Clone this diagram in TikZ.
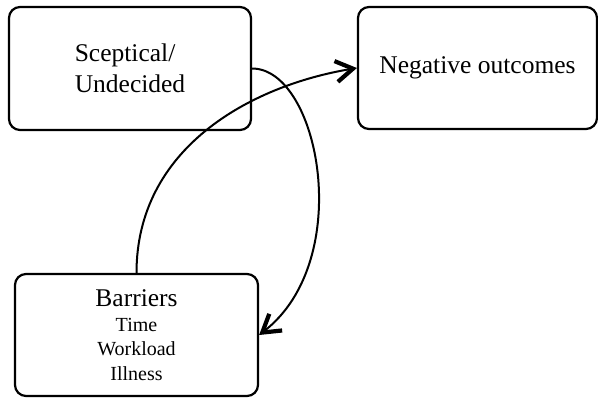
\documentclass[tikz,border=0pt]{standalone}
\usepackage{fontspec}
\setmainfont{Liberation Serif}
\usetikzlibrary{arrows.meta}
\begin{document}
\begin{tikzpicture}[x=1pt, y=-1pt,
  stage/.style={draw, line width=2.2pt, rounded corners=11pt, inner sep=0pt,
    font=\fontsize{25.5}{31}\selectfont},
  link/.style={line width=2pt,
    -{Straight Barb[length=17pt, width=21pt, line width=4.2pt]}}]
  \useasboundingbox (0,0) rectangle (598,397);
  % the three stages
  \node[stage, minimum width=242pt, minimum height=123pt, align=left]
    (scep) at (130,68.5) {Sceptical/\\Undecided};
  \node[stage, minimum width=239pt, minimum height=122pt, align=center]
    (neg) at (477.5,68) {Negative outcomes};
  \node[stage, minimum width=243pt, minimum height=122pt, align=center,
    font=\fontsize{20}{24.5}\selectfont]
    (bar) at (136.5,335)
    {{\fontsize{25.5}{25}\selectfont Barriers}\\Time\\Workload\\Illness};
  % crossing arcs between the stages
  \draw[link] (scep.east) .. controls +(67,0) and +(97,-75) .. (bar.east);
  \draw[link] (bar.north) .. controls +(0,-124) and +(-108,18) .. (neg.west);
\end{tikzpicture}
\end{document}
